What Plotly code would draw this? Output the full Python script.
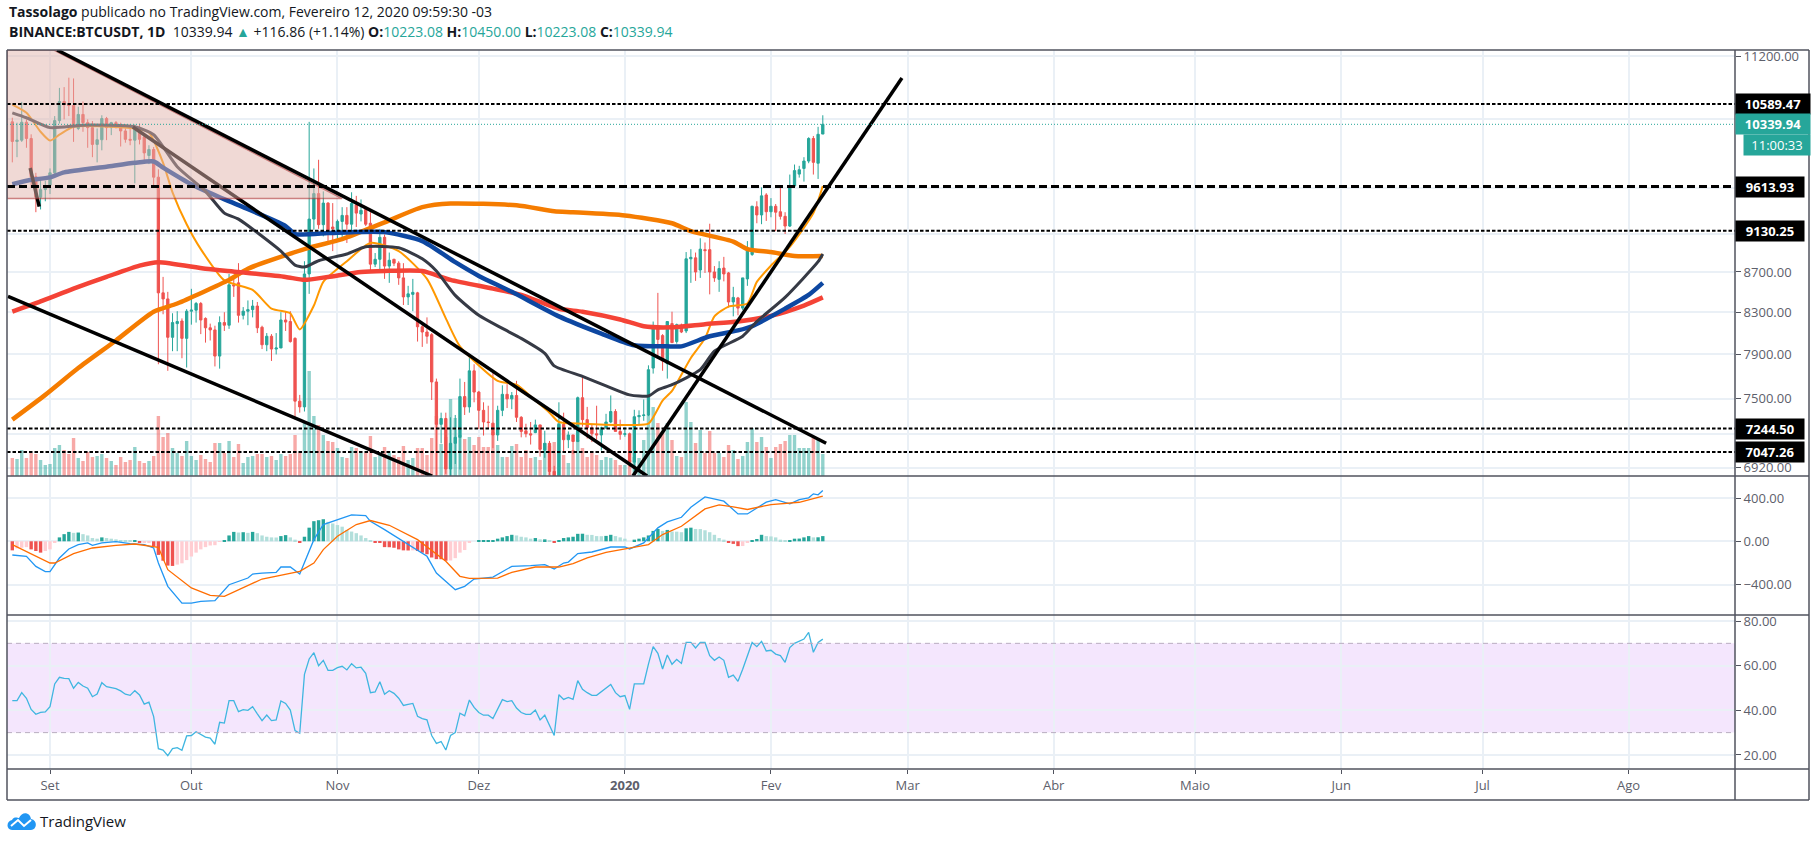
import numpy as np
import pandas as pd
import plotly.graph_objs as go

# daily candles, 2019-08-24 .. 2020-02-12
opens = [10370,10135,10150,10365,10170,9725,9495,9580,
    9630,9770,10385,10620,10580,10570,10290,10460,10360,10300,10100,10155,10410,10300,10360,10310,10260,10160,10150,10280,10190,9970,10040,9720,8490,8430,8060,8190,8215,8050,
    8310,8320,8385,8240,8150,8130,7885,8200,8175,8570,8590,8270,8310,8325,8360,8155,7990,8070,7950,7960,8225,8210,8050,7480,7430,8680,9255,9535,9195,9430,9170,
    9125,9230,9295,9200,9410,9310,9360,9210,8780,8830,9060,8760,8830,8790,8640,8450,8475,8490,8160,8110,8085,7650,7280,7330,6910,7120,7170,7520,7430,7750,
    7560,7400,7300,7290,7190,7400,7540,7500,7530,7340,7225,7200,7210,7275,7065,7120,6890,6610,7280,7150,7190,7135,7510,7320,7250,7200,7190,7250,7300,7390,7220,
    7195,7200,6965,7345,7355,7360,7775,8160,8076,7815,8190,8020,8175,8120,8835,8845,8720,8930,8930,8700,8625,8740,8690,8400,8440,8340,8630,8880,9390,9300,9520,
    9335,9395,9335,9285,9180,9620,9755,9820,9905,10170,9880,10223]
highs = [10420,10360,10615,10400,10220,9770,9690,9680,
    9820,10440,10790,10800,10920,10910,10555,10620,10400,10380,10290,10450,10430,10370,10380,10360,10290,10320,10340,10350,10200,10090,10070,9810,8650,8500,8290,8310,8240,8330,
    8530,8400,8400,8250,8190,8170,8260,8300,8680,8670,8790,8350,8415,8420,8400,8170,8100,8090,8100,8300,8310,8310,8060,7535,8810,10370,9820,9920,9560,9440,9430,
    9250,9385,9385,9550,9510,9470,9390,9330,8895,9150,9090,8900,8835,8810,8790,8560,8630,8500,8200,8250,8100,7680,7380,7380,7340,7360,7680,7650,7885,7810,
    7570,7470,7440,7750,7440,7620,7630,7560,7660,7350,7285,7300,7320,7275,7225,7140,6935,7470,7380,7220,7190,7520,7710,7430,7280,7440,7260,7370,7530,7410,7320,
    7255,7210,7405,7400,7495,7800,8210,8490,8090,8210,8305,8190,8190,8905,8935,8900,9050,9005,9205,8760,8810,8855,8700,8550,8450,8640,9020,9400,9450,9605,9540,
    9485,9420,9620,9330,9750,9865,9850,9950,10185,10200,10310,10450]
lows = [9890,9950,10130,10060,9600,9330,9360,9450,
    9530,9745,10350,10400,10440,10130,10270,10250,10060,9950,9890,10030,10150,10210,10290,10075,10120,10090,9650,10100,9900,9870,9610,7810,8280,7750,7930,7930,7865,7780,
    8180,8200,8090,8010,8030,7790,7770,8120,8140,8450,8200,8230,8175,8250,8100,7950,7930,7840,7900,7975,8120,8010,7320,7380,7390,8480,9140,9150,9070,9010,8915,
    9040,9060,9000,9060,9170,9230,9180,8700,8750,8730,8630,8590,8760,8570,8370,8370,8310,8020,7970,8000,7490,6800,7120,6870,6530,6950,6905,7360,7380,7470,
    7240,7185,7240,7080,7140,7350,7420,7410,7300,7170,7170,7110,7205,7010,7000,6860,6560,6430,7040,7080,7030,7130,7260,7160,7130,7150,7060,7240,7290,7220,7150,
    7175,6925,6870,7270,7310,7350,7725,7870,7750,7680,8010,8000,8100,8100,8590,8610,8640,8690,8475,8600,8500,8605,8345,8260,8270,8320,8560,8865,9210,9200,9235,
    9275,9125,9250,9095,9170,9600,9715,9670,9880,9750,9700,10223]
closes = [10135,10150,10365,10170,9725,9495,9580,9600,
    9770,10385,10620,10580,10570,10310,10460,10360,10300,10100,10155,10410,10300,10360,10310,10260,10160,10150,10280,10160,10000,10040,9720,8490,8430,8060,8200,8210,8050,8310,
    8320,8385,8225,8150,8130,7885,8200,8175,8570,8560,8270,8310,8325,8360,8150,7990,8070,7950,7960,8225,8205,8020,7480,7430,8680,9255,9535,9195,9430,9140,9150,
    9230,9295,9200,9425,9320,9350,9200,8780,8830,9060,8760,8820,8790,8640,8450,8480,8495,8160,8110,8070,7650,7280,7330,6910,7120,7170,7520,7430,7750,7560,
    7400,7300,7295,7190,7400,7540,7500,7530,7340,7220,7200,7190,7275,7070,7120,6890,6610,7280,7150,7190,7135,7510,7320,7250,7200,7190,7250,7300,7390,7220,7195,
    7200,6965,7345,7355,7360,7760,8165,8040,7840,8210,8010,8180,8110,8835,8850,8700,8935,8920,8700,8640,8735,8680,8400,8445,8340,8640,8935,9395,9300,9510,9335,
    9395,9330,9285,9180,9620,9795,9805,9905,10170,9890,10220,10339.94]
volumes = [18,17,26,18,23,22,16,11,
    12,28,31,26,22,38,18,15,24,19,20,22,18,15,11,19,14,16,29,15,13,15,20,60,39,43,28,23,20,35,
    20,16,21,17,14,33,33,23,35,19,32,13,19,20,22,22,19,20,16,22,20,22,41,23,55,105,60,51,41,35,34,
    28,19,18,29,28,23,23,40,19,21,29,25,21,19,30,16,18,28,28,21,38,60,32,39,77,58,41,37,39,31,
    39,29,29,44,31,19,19,30,32,19,26,18,19,16,33,30,34,53,21,13,26,36,28,19,23,21,16,19,18,16,11,
    11,16,19,18,36,61,69,53,44,53,36,20,19,74,54,33,46,23,45,23,23,19,31,26,17,20,34,48,34,39,29,
    18,29,32,35,41,41,28,28,28,39,36,22]

macd_hist = [-84,-66,-60,-54,-75,-90,-105,-90,
    -75,-15,36,66,87,78,81,66,54,30,24,36,30,24,18,12,6,5,8,-12,-10,-8,-45,-126,-180,-225,-228,-216,-204,-174,
    -141,-105,-75,-54,-39,-36,-3,12,54,87,81,84,78,87,75,54,42,36,35,48,57,36,15,-15,42,126,186,195,204,180,165,
    150,135,105,90,75,54,30,6,-15,-16,-54,-55,-60,-75,-84,-85,-84,-90,-105,-120,-150,-165,-166,-180,-178,-156,-105,-81,-9,0,
    3,3,3,4,24,36,48,60,54,42,36,24,30,18,18,6,-15,6,30,36,42,69,70,60,59,48,47,50,60,48,36,
    24,0,15,24,36,54,96,114,96,105,90,89,84,120,126,114,113,102,84,60,30,15,-9,-24,-45,-44,-15,12,21,60,48,
    45,36,15,3,4,24,25,36,48,36,37,48]
rsi = [44.3,44.3,47.9,45.4,40.4,38.2,39.1,39.3,
    41.6,51.8,54.8,54.3,54.2,49.9,52.5,50.9,49.9,46.1,47.3,52.4,50.6,50.3,49.7,48.7,47.2,46.7,48.8,46.9,42.8,43.7,37.2,22.8,22.2,19.7,22.8,23.3,22.1,28.5,
    28.7,30.4,29,28,27.5,24.8,34.6,34.3,44.3,44.3,39.4,40.3,40,41.6,38.4,35.4,37.9,35.4,35.7,44.2,43.1,40.1,30.9,29.7,56.1,63,65.8,60,62.4,57.9,57.9,
    59.1,59.7,58.1,60.9,59,59.3,56.6,47.9,48.2,52.8,47.2,48.8,47.6,45.4,42.2,42.7,43.1,37.3,36.3,35.7,28.7,25.2,26,22.2,28.7,30,38.7,37.5,44.6,41.3,
    39,37.8,37.8,36.3,40.9,44.8,43.9,44.3,41,39,38.2,38.2,40.1,35.7,37.8,33.4,28.7,47,44.9,45.8,44.9,53.3,49.4,47.9,46.7,46.7,48.2,49.9,51.6,47.9,46.1,
    46.6,40.4,51.8,51.8,51.9,60.7,68.5,65.5,58.5,64.8,60.6,62.8,61,70.4,70.4,67.9,70.4,70.4,64.5,62.4,63.9,62.4,54.8,55.8,53,58.4,64,70.4,68.5,70.9,66.6,
    66.9,65.2,64.5,61.5,68.1,70,70.9,71.9,74.9,66,70.4,71.9]

# moving averages, read at the dates where they bend
ma_red_dates = ["2019-08-24","2019-08-30","2019-09-06","2019-09-13","2019-09-20","2019-09-24","2019-10-04","2019-10-11","2019-10-21","2019-10-25","2019-10-30","2019-11-06","2019-11-11","2019-11-19","2019-11-25","2019-12-04","2019-12-10","2019-12-18","2019-12-23","2019-12-31","2020-01-05","2020-01-11","2020-01-18","2020-01-25","2020-02-01","2020-02-08","2020-02-12"]
ma_red = [8305,8405,8532,8650,8765,8800,8733,8700,8650,8620,8650,8700,8710,8710,8620,8532,8470,8334,8305,8230,8165,8155,8185,8210,8265,8365,8445]

ma_orange_dates = ["2019-08-24","2019-08-31","2019-09-07","2019-09-15","2019-09-23","2019-09-28","2019-10-09","2019-10-13","2019-10-25","2019-11-02","2019-11-11","2019-11-19","2019-11-25","2019-12-09","2019-12-17","2019-12-21","2020-01-01","2020-01-11","2020-01-15","2020-01-24","2020-01-27","2020-02-01","2020-02-06","2020-02-12"]
ma_orange = [7320,7535,7775,8030,8305,8385,8620,8733,8936,9041,9220,9385,9425,9405,9340,9330,9295,9210,9125,9015,8936,8905,8865,8865]

ma_blue_dates = ["2019-08-24","2019-08-27","2019-09-01","2019-09-04","2019-09-13","2019-09-19","2019-09-23","2019-09-25","2019-10-01","2019-10-07","2019-10-12","2019-10-21","2019-10-23","2019-10-30","2019-11-04","2019-11-11","2019-11-19","2019-11-26","2019-12-01","2019-12-08","2019-12-18","2019-12-27","2020-01-03","2020-01-10","2020-01-13","2020-01-19","2020-01-25","2020-01-28","2020-02-04","2020-02-09","2020-02-12"]
ma_blue = [9640,9680,9718,9775,9840,9885,9900,9830,9640,9495,9385,9180,9095,9105,9115,9115,9020,8800,8660,8500,8260,8095,7985,7975,7975,8070,8125,8165,8335,8470,8590]

ma_dark_dates = ["2019-08-24","2019-08-27","2019-09-01","2019-09-08","2019-09-19","2019-09-23","2019-09-28","2019-10-04","2019-10-08","2019-10-11","2019-10-20","2019-10-23","2019-10-25","2019-10-28","2019-11-03","2019-11-07","2019-11-14","2019-11-19","2019-11-22","2019-11-26","2019-12-01","2019-12-06","2019-12-10","2019-12-15","2019-12-17","2019-12-23","2019-12-28","2020-01-02","2020-01-06","2020-01-08","2020-01-11","2020-01-17","2020-01-20","2020-01-26","2020-01-29","2020-02-04","2020-02-11","2020-02-12"]
ma_dark = [10480,10420,10300,10330,10310,10215,9840,9560,9320,9255,8915,8770,8750,8815,8885,8960,8950,8835,8710,8465,8270,8144,8050,7910,7795,7700,7615,7535,7525,7580,7625,7760,7930,8070,8210,8445,8805,8885]

ma_thin_dates = ["2019-08-24","2019-08-27","2019-08-30","2019-09-01","2019-09-03","2019-09-06","2019-09-19","2019-09-22","2019-09-25","2019-09-27","2019-09-30","2019-10-03","2019-10-08","2019-10-14","2019-10-18","2019-10-21","2019-10-22","2019-10-24","2019-10-27","2019-10-29","2019-11-03","2019-11-08","2019-11-14","2019-11-20","2019-11-24","2019-11-27","2019-12-05","2019-12-09","2019-12-13","2019-12-16","2019-12-18","2019-12-23","2020-01-02","2020-01-06","2020-01-09","2020-01-11","2020-01-15","2020-01-18","2020-01-20","2020-01-23","2020-01-27","2020-01-29","2020-02-01","2020-02-05","2020-02-10","2020-02-12"]
ma_thin = [10580,10480,10250,10145,10215,10310,10290,10240,9885,9550,9200,8936,8615,8520,8335,8305,8290,8135,8365,8600,8810,9000,8915,8630,8240,7975,7660,7625,7485,7380,7300,7285,7275,7285,7485,7570,7867,8050,8260,8355,8385,8600,8765,8960,9320,9620]

macd_dates = ["2019-08-24","2019-08-27","2019-08-29","2019-08-31","2019-09-01","2019-09-03","2019-09-05","2019-09-07","2019-09-09","2019-09-10","2019-09-12","2019-09-15","2019-09-18","2019-09-21","2019-09-23","2019-09-24","2019-09-26","2019-09-29","2019-10-01","2019-10-03","2019-10-06","2019-10-09","2019-10-13","2019-10-14","2019-10-16","2019-10-19","2019-10-20","2019-10-22","2019-10-24","2019-10-27","2019-10-29","2019-11-02","2019-11-04","2019-11-07","2019-11-08","2019-11-11","2019-11-15","2019-11-20","2019-11-22","2019-11-26","2019-11-28","2019-11-30","2019-12-04","2019-12-08","2019-12-12","2019-12-15","2019-12-17","2019-12-19","2019-12-20","2019-12-22","2019-12-25","2019-12-29","2020-01-01","2020-01-02","2020-01-05","2020-01-08","2020-01-10","2020-01-13","2020-01-15","2020-01-18","2020-01-22","2020-01-25","2020-01-27","2020-01-31","2020-02-02","2020-02-05","2020-02-07","2020-02-09","2020-02-10","2020-02-11","2020-02-12"]
macd_line = [-127,-139,-232,-281,-281,-155,-71,-31,-15,-37,-15,-3,-22,-31,-62,-201,-417,-572,-572,-556,-550,-402,-340,-303,-294,-287,-238,-238,-303,15,155,216,244,238,185,108,0,-139,-294,-448,-417,-349,-331,-232,-226,-216,-256,-201,-192,-114,-99,-53,-53,-71,-15,124,179,222,315,411,371,253,253,362,386,346,386,402,439,430,470]

signal_dates = ["2019-08-24","2019-08-27","2019-09-01","2019-09-02","2019-09-06","2019-09-10","2019-09-15","2019-09-19","2019-09-24","2019-09-26","2019-10-01","2019-10-05","2019-10-08","2019-10-16","2019-10-24","2019-10-27","2019-10-29","2019-11-01","2019-11-05","2019-11-08","2019-11-12","2019-11-18","2019-11-24","2019-11-27","2019-11-29","2019-12-05","2019-12-08","2019-12-13","2019-12-18","2019-12-21","2019-12-24","2019-12-28","2020-01-01","2020-01-06","2020-01-09","2020-01-13","2020-01-18","2020-01-21","2020-01-24","2020-01-27","2020-02-01","2020-02-05","2020-02-07","2020-02-12"]
signal_line = [-31,-93,-201,-201,-114,-62,-37,-25,-56,-263,-432,-500,-510,-349,-278,-201,-77,46,155,192,148,15,-185,-324,-343,-340,-287,-238,-238,-207,-154,-102,-71,-31,62,139,300,337,318,294,340,355,361,417]

# horizontal levels
level_thin = [10589.47, 9130.25, 7244.50, 7047.26]
level_bold = [9613.93]
last_close = 10339.94

# drawn trend lines
trend_a_x = ["2019-09-02 12:00", "2020-02-12 17:00"]
trend_a_y = [11279, 7121]
trend_b_x = ["2019-09-18 14:00", "2020-01-05 17:00"]
trend_b_y = [10307, 6853]
trend_c_x = ["2019-08-23 02:00", "2019-11-21 02:00"]
trend_c_y = [8455, 6853]
trend_d_x = ["2020-01-02 17:00", "2020-02-28 19:00"]
trend_d_y = [6853, 10915]
stub_x = ["2019-08-27 19:00", "2019-08-29 17:00"]
stub_y = [9825, 9390]
wedge_x = ["2019-08-22_21:00", "2019-09-01_20:00", "2019-11-02_00:00", "2019-08-22_21:00"]
wedge_y = [11279, 11279, 9480, 9480]

price_ticks = [11200, 10400, 9600, 9100, 8700, 8300, 7900, 7500, 7200, 6920]
price_labels = ["11200.00", "", "", "", "8700.00", "8300.00", "7900.00", "7500.00", "", "6920.00"]
macd_ticks = [400, 0, -400]
rsi_ticks = [80, 60, 40, 20]
month_ticks = ["2019-09-01","2019-10-01","2019-11-01","2019-12-01","2020-01-01","2020-02-01","2020-03-01","2020-04-01","2020-05-01","2020-06-01","2020-07-01","2020-08-01"]
month_labels = ["Set","Out","Nov","Dez","<b>2020</b>","Fev","Mar","Abr","Maio","Jun","Jul","Ago"]

dates = pd.date_range("2019-08-24", "2020-02-12")

UP = "#26a69a"
DOWN = "#ef5350"
GRID = "#eaf0f6"
FRAME = "#50535e"
TEXT = "#131722"
AXIS_TEXT = "#5d606b"
FONT = "Open Sans"
DAY = 86400000


def pxx(x):
    return (x - 7) / 1728


def pxy(y):
    return (769 - y) / 719


vol_colors = ["rgba(38,166,154,0.5)" if c >= o else "rgba(239,83,80,0.5)" for o, c in zip(opens, closes)]

hist_colors = []
prev = None
for v in macd_hist:
    rising = prev is not None and v >= prev
    if v >= 0:
        hist_colors.append(UP if rising else "#b2dfdb")
    else:
        hist_colors.append("#ffcdd2" if rising else DOWN)
    prev = v


def ma(xs, ys, color, width):
    return go.Scatter(x=xs, y=ys, mode="lines", yaxis="y2",
                      line=dict(color=color, width=width, shape="spline", smoothing=0.6))


data = [
    go.Bar(x=dates, y=volumes, marker=dict(color=vol_colors, line_width=0), width=DAY * 0.72, xaxis="x", yaxis="y"),
    go.Candlestick(x=dates, open=opens, high=highs, low=lows, close=closes, xaxis="x", yaxis="y2", whiskerwidth=0,
                   increasing=dict(line=dict(color=UP, width=1), fillcolor=UP),
                   decreasing=dict(line=dict(color=DOWN, width=1), fillcolor=DOWN)),
    ma(ma_thin_dates, ma_thin, "#ff9800", 2),
    ma(ma_orange_dates, ma_orange, "#f57c00", 4.5),
    ma(ma_red_dates, ma_red, "#f44336", 4.5),
    ma(ma_blue_dates, ma_blue, "#0d47a1", 4.5),
    ma(ma_dark_dates, ma_dark, "#363a45", 3),
    go.Bar(x=dates, y=macd_hist, marker=dict(color=hist_colors, line_width=0), width=DAY * 0.72, yaxis="y3"),
    go.Scatter(x=macd_dates, y=macd_line, mode="lines", line=dict(color="#2196f3", width=1.3), yaxis="y3"),
    go.Scatter(x=signal_dates, y=signal_line, mode="lines", line=dict(color="#ff6d00", width=1.3), yaxis="y3"),
    go.Scatter(x=dates, y=rsi, mode="lines", line=dict(color="#3fb6e0", width=1.3), yaxis="y4"),
]

shapes = [
    dict(type="rect", xref="paper", yref="y4", x0=0, x1=1, y0=30, y1=70, fillcolor="#f4e6fd", line_width=0, layer="below"),
    dict(type="line", xref="paper", yref="y4", x0=0, x1=1, y0=70, y1=70, line=dict(color="#b9adc0", width=1, dash="5px,4px")),
    dict(type="line", xref="paper", yref="y4", x0=0, x1=1, y0=30, y1=30, line=dict(color="#b9adc0", width=1, dash="5px,4px")),
]


def trend(xs, ys, width=3.5):
    return dict(type="line", xref="x", yref="y2", x0=xs[0], x1=xs[1], y0=ys[0], y1=ys[1],
                line=dict(color="#000000", width=width))


wedge_path = "M " + " L ".join(f"{x} {y}" for x, y in zip(wedge_x, wedge_y)) + " Z"
shapes += [
    trend(trend_b_x, trend_b_y),
    trend(stub_x, stub_y),
    dict(type="path", xref="x", yref="y2", path=wedge_path, fillcolor="rgba(225,179,171,0.5)",
         line=dict(color="rgba(170,40,40,0.55)", width=1.5)),
    trend(trend_a_x, trend_a_y),
    trend(trend_c_x, trend_c_y),
    trend(trend_d_x, trend_d_y),
    dict(type="line", xref="paper", yref="y2", x0=0, x1=1, y0=last_close, y1=last_close,
         line=dict(color=UP, width=1, dash="1px,2px")),
]
for lv in level_thin:
    shapes.append(dict(type="line", xref="paper", yref="y2", x0=0, x1=1, y0=lv, y1=lv,
                       line=dict(color="#000000", width=2, dash="3.5px,2px")))
for lv in level_bold:
    shapes.append(dict(type="line", xref="paper", yref="y2", x0=0, x1=1, y0=lv, y1=lv,
                       line=dict(color="#000000", width=3, dash="8px,4px")))

# chart frame and pane separators
for x0, y0, x1, y1 in [(7, 50, 1809, 50), (7, 50, 7, 800), (1809, 50, 1809, 800), (7, 800, 1809, 800),
                       (1735, 50, 1735, 800), (7, 476, 1809, 476), (7, 615, 1809, 615), (7, 769, 1809, 769)]:
    shapes.append(dict(type="line", xref="paper", yref="paper", x0=pxx(x0), x1=pxx(x1), y0=pxy(y0), y1=pxy(y1),
                       line=dict(color=FRAME, width=1.5)))


# TradingView cloud
def cloud(points):
    return " ".join(f"{c} {pxx(x)} {pxy(y)}" if c != "C" else
                    "C " + " ".join(f"{pxx(a)} {pxy(b)}" for a, b in zip(x, y)) for c, x, y in points)


cloud_path = cloud([
    ("M", 12, 830),
    ("C", (6, 6, 12), (830, 821, 820)),
    ("C", (14, 18, 19), (816, 818, 818)),
    ("C", (22, 30, 31), (811, 812, 819)),
    ("C", (38, 37, 31), (820, 830, 830)),
]) + " Z"
wave_path = cloud([("M", 11, 826), ("L", 18, 820), ("L", 24, 826), ("L", 31, 820)])
shapes += [
    dict(type="path", xref="paper", yref="paper", path=cloud_path, fillcolor="#2196f3", line_width=0),
    dict(type="path", xref="paper", yref="paper", path=wave_path, line=dict(color="#ffffff", width=2)),
]

val = f'<span style="color:{UP}">%s</span>'
header_1 = "<b>Tassolago</b> publicado no TradingView.com, Fevereiro 12, 2020 09:59:30 -03"
header_2 = ("<b>BINANCE:BTCUSDT, 1D</b>  10339.94 " + val % "▲" + " +116.86 (+1.14%) "
            + "<b>O:</b>" + val % "10223.08" + " <b>H:</b>" + val % "10450.00"
            + " <b>L:</b>" + val % "10223.08" + " <b>C:</b>" + val % "10339.94")

annotations = [
    dict(text=header_1, xref="paper", yref="paper", x=pxx(7), y=pxy(12), xanchor="left", yanchor="middle",
         showarrow=False, font=dict(family=FONT, size=14, color=TEXT)),
    dict(text=header_2, xref="paper", yref="paper", x=pxx(7), y=pxy(32), xanchor="left", yanchor="middle",
         showarrow=False, font=dict(family=FONT, size=14, color=TEXT)),
    dict(text="TradingView", xref="paper", yref="paper", x=pxx(38), y=pxy(821), xanchor="left", yanchor="middle",
         showarrow=False, font=dict(family=FONT, size=15, color=TEXT)),
]


def price_box(value, text, width, color="#000000"):
    return dict(text=f"<b>{text}</b>", xref="paper", yref="y2", x=1, y=float(np.log10(value)),
                xanchor="left", yanchor="middle", align="center", showarrow=False, width=width, height=19,
                bgcolor=color, borderpad=0.5, font=dict(family=FONT, size=13, color="#ffffff"))


annotations += [
    price_box(10589.47, "10589.47", 73),
    price_box(last_close, "10339.94", 73, UP),
    price_box(9613.93, "9613.93", 67),
    price_box(9130.25, "9130.25", 67),
    price_box(7244.50, "7244.50", 67),
    price_box(7047.26, "7047.26", 67),
    dict(text="11:00:33", xref="paper", yref="y2", x=pxx(1743), y=float(np.log10(last_close)), yshift=-21,
         xanchor="left", yanchor="middle", align="center", showarrow=False, width=65, height=19, bgcolor=UP,
         borderpad=0.5, font=dict(family=FONT, size=13, color="#ffffff")),
]

right_axis = dict(side="right", anchor="x", ticks="outside", ticklen=5, tickcolor=FRAME, showline=False,
                  zeroline=False, showgrid=True, gridcolor=GRID, gridwidth=1.5,
                  tickfont=dict(family=FONT, size=13, color=AXIS_TEXT))

layout = go.Layout(
    width=1817, height=842, margin=dict(l=7, r=82, t=50, b=73, autoexpand=False),
    paper_bgcolor="#ffffff", plot_bgcolor="#ffffff", showlegend=False, barmode="overlay", dragmode=False,
    font=dict(family=FONT, color=TEXT),
    xaxis=dict(type="date", domain=[0, 1], anchor="y4", range=["2019-08-22 21:00", "2020-08-23 14:00"],
               tickmode="array", tickvals=month_ticks, ticktext=month_labels, ticks="outside", ticklen=4,
               tickcolor=FRAME, showgrid=True, gridcolor=GRID, gridwidth=1.5, showline=False, zeroline=False,
               rangeslider=dict(visible=False), tickfont=dict(family=FONT, size=13, color=AXIS_TEXT)),
    yaxis=dict(domain=[pxy(476), 1], anchor="x", range=[0, 426], showticklabels=False, showgrid=False, zeroline=False, ticks=""),
    yaxis2=dict(right_axis, type="log", overlaying="y", range=[np.log10(6853), np.log10(11279)], tickmode="array",
                tickvals=price_ticks, ticktext=price_labels),
    yaxis3=dict(right_axis, domain=[pxy(615), pxy(476)], range=[-682, 604], tickmode="array", tickvals=macd_ticks,
                ticktext=["400.00", "0.00", "−400.00"]),
    yaxis4=dict(right_axis, domain=[0, pxy(615)], range=[13.7, 82.7], tickmode="array", tickvals=rsi_ticks,
                ticktext=[f"{v:.2f}" for v in rsi_ticks]),
    shapes=shapes, annotations=annotations,
)

fig = go.Figure(data=data, layout=layout)
fig.update_traces(hoverinfo="skip")
fig.write_html("out.html", config=dict(displayModeBar=False),
               post_script="document.body.style.margin='0';document.body.style.overflow='hidden';")
